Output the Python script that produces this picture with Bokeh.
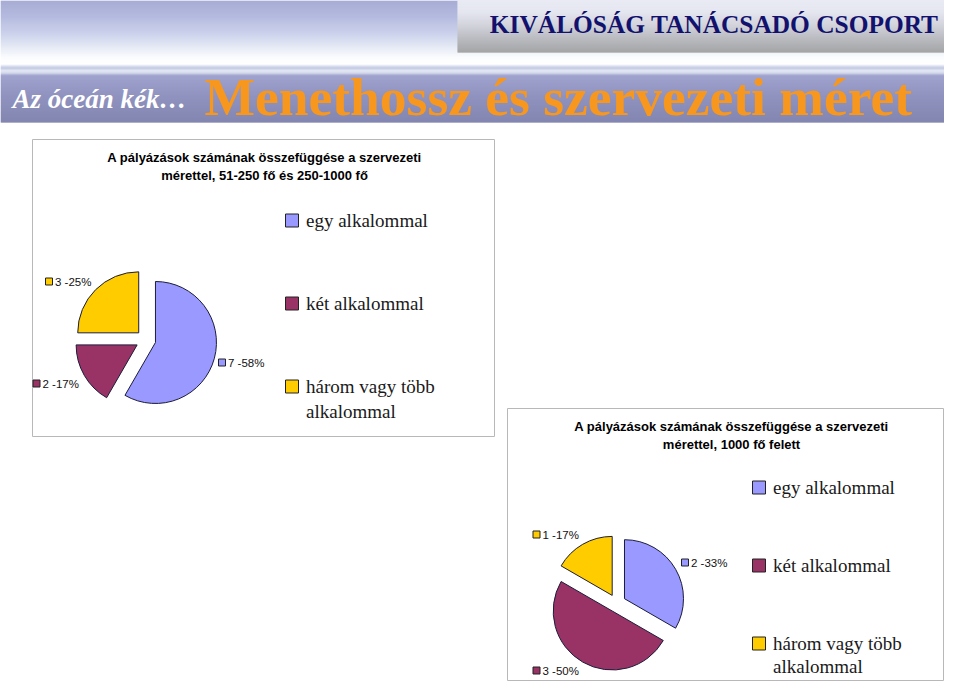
import numpy as np
from bokeh.plotting import figure
from bokeh.models import Range1d
from bokeh.core.properties import value
from bokeh.embed import file_html
from bokeh.resources import INLINE

# ---------------- data ----------------
header_company = "KIVÁLÓSÁG TANÁCSADÓ CSOPORT"
header_tag = "Az óceán kék…"
header_title = "Menethossz és szervezeti méret"

categories = ["egy alkalommal", "két alkalommal", "három vagy több alkalommal"]
legend_lines = [["egy alkalommal"], ["két alkalommal"], ["három vagy több", "alkalommal"]]
colors = ["#9999ff", "#993366", "#ffcc00"]

pie1_title = ["A pályázások számának összefüggése a szervezeti",
              "mérettel, 51-250 fő és 250-1000 fő"]
pie1_values = [7, 2, 3]

pie2_title = ["A pályázások számának összefüggése a szervezeti",
              "mérettel, 1000 fő felett"]
pie2_values = [2, 3, 1]

# ---------------- layout ----------------
W, H = 944, 681


def Y(ry):
    return 697 - ry


p = figure(width=W, height=H, x_range=Range1d(0, W), y_range=Range1d(697 - H, 697),
           output_backend="svg", toolbar_location=None, min_border=0,
           x_axis_type=None, y_axis_type=None)
p.grid.visible = False
p.outline_line_color = None
p.background_fill_color = "white"
p.border_fill_color = "white"


def hex2rgb(h):
    h = h.lstrip("#")
    return np.array([int(h[i:i + 2], 16) for i in (0, 2, 4)], dtype=float)


def vgrad(x0, x1, stops):
    ys = np.array([s[0] for s in stops], dtype=float)
    cs = np.array([hex2rgb(s[1]) for s in stops])
    tops, bots, cols = [], [], []
    for yy in np.arange(ys[0], ys[-1], 1.0):
        c = [np.interp(yy + 0.5, ys, cs[:, k]) for k in range(3)]
        tops.append(Y(yy))
        bots.append(Y(yy + 1.02))
        cols.append("#%02x%02x%02x" % tuple(int(round(v)) for v in c))
    p.quad(left=x0, right=x1, top=tops, bottom=bots, fill_color=cols, line_color=None)


# header sky
vgrad(0, 960, [(0, "#8990c6"), (18, "#9ea6d6"), (35, "#bfc7e7"), (50, "#e6ebf6"),
               (58, "#fbfcfe"), (64, "#ffffff"), (66, "#c8d0e8"), (68, "#a9b3d8"),
               (70, "#dde3f2"), (73, "#c4c9e4"), (75, "#8185bd"), (95, "#6c70aa"),
               (122, "#5a5e95")])
# gray company box
vgrad(457, 960, [(0, "#ffffff"), (12, "#f6f6f6"), (28, "#d0d0d0"), (42, "#a6a6a6"),
                 (52, "#8a8a8a")])

p.text(x=[938], y=[Y(23)], text=[header_company], text_font=value("Liberation Serif"),
       text_font_style="bold", text_font_size=value("25.4px"), text_color="#12126e",
       text_align="right", text_baseline="middle")
p.text(x=[12], y=[Y(98)], text=[header_tag], text_font=value("Liberation Serif"),
       text_font_style="bold italic", text_font_size=value("27px"), text_color="white",
       text_align="left", text_baseline="middle")
p.text(x=[204], y=[Y(96)], text=[header_title], text_font=value("Liberation Serif"),
       text_font_style="bold", text_font_size=value("53.5px"), text_color="#f7971e",
       text_align="left", text_baseline="middle")


def chart(box, title, values, center, r, d, label_pos, legend_x, legend_ys, legend_line_gap):
    l, t, rr, b = box
    p.quad(left=l, right=rr, top=Y(t), bottom=Y(b), fill_color="white",
           line_color="#b8b8b8", line_width=1)
    cx = title[2]
    p.text(x=[cx, cx], y=[Y(title[1]), Y(title[1] + 18)], text=title[0],
           text_font=value("Liberation Sans"), text_font_style="bold",
           text_font_size=value("13px"), text_color="black",
           text_align="center", text_baseline="middle")

    vals = np.array(values, dtype=float)
    tot = vals.sum()
    cum = np.concatenate([[0], np.cumsum(vals)]) / tot
    starts = np.pi / 2 - 2 * np.pi * cum[1:]
    ends = np.pi / 2 - 2 * np.pi * cum[:-1]
    mids = (starts + ends) / 2
    xs = center[0] + d * np.cos(mids)
    ys = Y(center[1]) + d * np.sin(mids)
    p.wedge(x=xs, y=ys, radius=r, start_angle=starts, end_angle=ends,
            direction="anticlock", fill_color=colors, line_color="#1c1c3a", line_width=1)

    labels = ["%d -%d%%" % (v, round(100 * v / tot)) for v in values]
    lx = [q[0] for q in label_pos]
    ly = [Y(q[1]) for q in label_pos]
    p.scatter(x=lx, y=ly, marker="square", size=7, fill_color=colors,
              line_color="#222222", line_width=1)
    p.text(x=[v + 6 for v in lx], y=ly, text=labels, text_font=value("Liberation Sans"),
           text_font_size=value("11.5px"), text_color="#111111",
           text_align="left", text_baseline="middle")

    # legend
    p.scatter(x=[legend_x] * 3, y=[Y(v) for v in legend_ys], marker="square", size=13,
              fill_color=colors, line_color="#222222", line_width=1)
    tx, ty, tt = [], [], []
    for i, lines in enumerate(legend_lines):
        for j, s in enumerate(lines):
            tx.append(legend_x + 14)
            ty.append(Y(legend_ys[i] + j * legend_line_gap))
            tt.append(s)
    p.text(x=tx, y=ty, text=tt, text_font=value("Liberation Serif"),
           text_font_size=value("19px"), text_color="#1a1a1a",
           text_align="left", text_baseline="middle")


chart((32, 139, 494, 436), (pie1_title, 157, 264), pie1_values, (145.3, 339.4), 61, 10,
      [(221.5, 362), (36, 383), (48.5, 281)], 291.5, [220, 303, 386], 25)
chart((507, 408, 943, 680), (pie2_title, 426, 731), pie2_values, (616.2, 602.7), 59, 9,
      [(684.5, 562), (536, 670), (536, 534)], 758.5, [487, 565, 643], 23)

open("out.html", "w").write(file_html(p, INLINE))
